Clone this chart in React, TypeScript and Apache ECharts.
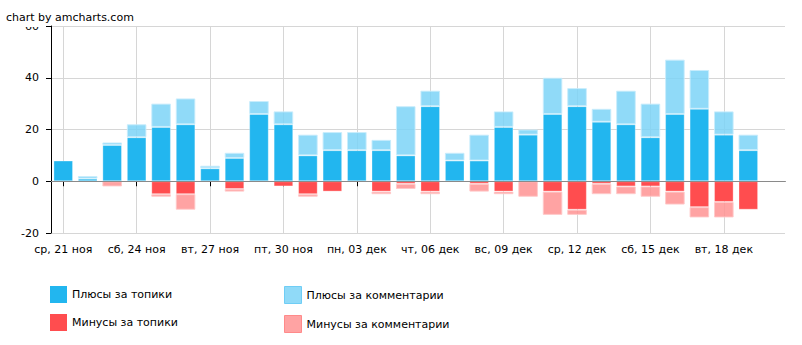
import React, { useEffect, useRef } from 'react';
import * as echarts from 'echarts';

const categories: string[] = [
  'ср, 21 ноя', 'чт, 22 ноя', 'пт, 23 ноя', 'сб, 24 ноя', 'вс, 25 ноя', 'пн, 26 ноя',
  'вт, 27 ноя', 'ср, 28 ноя', 'чт, 29 ноя', 'пт, 30 ноя', 'сб, 01 дек', 'вс, 02 дек',
  'пн, 03 дек', 'вт, 04 дек', 'ср, 05 дек', 'чт, 06 дек', 'пт, 07 дек', 'сб, 08 дек',
  'вс, 09 дек', 'пн, 10 дек', 'вт, 11 дек', 'ср, 12 дек', 'чт, 13 дек', 'пт, 14 дек',
  'сб, 15 дек', 'вс, 16 дек', 'пн, 17 дек', 'вт, 18 дек', 'ср, 19 дек', 'чт, 20 дек',
];

const topicPlus: (number | null)[] = [
  8, 1, 14, 17, 21, 22, 5, 9, 26, 22, 10, 12, 12, 12, 10,
  29, 8, 8, 21, 18, 26, 29, 23, 22, 17, 26, 28, 18, 12, null,
];
const commentPlus: (number | null)[] = [
  0, 1, 1, 5, 9, 10, 1, 2, 5, 5, 8, 7, 7, 4, 19,
  6, 3, 10, 6, 2, 14, 7, 5, 13, 13, 21, 15, 9, 6, null,
];
const topicMinus: (number | null)[] = [
  0, 0, 0, 0, -5, -5, 0, -3, 0, -2, -5, -4, 0, -4, -1,
  -4, 0, -1, -4, 0, -4, -11, -1, -2, -2, -4, -10, -8, -11, null,
];
const commentMinus: (number | null)[] = [
  0, 0, -2, 0, -1, -6, 0, -1, 0, 0, -1, 0, 0, -1, -2,
  -1, 0, -3, -1, -6, -9, -2, -4, -3, -4, -5, -4, -6, 0, null,
];

const yTicks = { min: -20, max: 60, interval: 20 };

const NAME_TP = 'Плюсы за топики';
const NAME_CP = 'Плюсы за комментарии';
const NAME_TM = 'Минусы за топики';
const NAME_CM = 'Минусы за комментарии';

export default function App() {
  const ref = useRef<HTMLDivElement>(null);

  useEffect(() => {
    if (!ref.current) return;
    const chart = echarts.init(ref.current, null, { renderer: 'svg' });
    const font = '"DejaVu Sans", Verdana, sans-serif';

    // zero-height segments are not drawn (they would leave border slivers)
    const clean = (arr: (number | null)[]) => arr.map((v) => (v === 0 || v === null ? '-' : v));

    const bar = (name: string, data: (number | null)[], color: string, border: string, extra: any = {}) => ({
      name,
      type: 'bar',
      stack: 'votes',
      data: clean(data),
      barWidth: '80%',
      itemStyle: { color, borderColor: border, borderWidth: 1 },
      emphasis: { disabled: true },
      ...extra,
    });

    const legendText = { fontSize: 11, color: '#000', fontFamily: font };

    chart.setOption({
      animation: false,
      textStyle: { fontFamily: font },
      grid: { left: 51, right: 17, top: 26, bottom: 112 },
      xAxis: {
        type: 'category',
        data: categories,
        axisLine: { show: true, lineStyle: { color: '#000', width: 1 } },
        axisTick: { show: true, interval: 2, alignWithLabel: true, length: 5, lineStyle: { color: '#000' } },
        axisLabel: { interval: 2, margin: 11, color: '#000', fontSize: 11, fontFamily: font },
        splitLine: { show: true, interval: 2, alignWithLabel: true, lineStyle: { color: '#d6d6d6', width: 1 } },
      },
      yAxis: {
        type: 'value',
        min: yTicks.min,
        max: yTicks.max,
        interval: yTicks.interval,
        axisLine: { show: true, lineStyle: { color: '#000', width: 1 } },
        axisTick: { show: true, length: 5, lineStyle: { color: '#000' } },
        axisLabel: { margin: 12, color: '#000', fontSize: 11, fontFamily: font },
        splitLine: { show: true, lineStyle: { color: '#d6d6d6', width: 1 } },
      },
      legend: [
        {
          data: [
            { name: NAME_TP, itemStyle: { borderWidth: 0 } },
            { name: NAME_TM, itemStyle: { borderWidth: 0 } },
          ],
          orient: 'vertical',
          left: 50,
          top: 286,
          padding: 0,
          itemWidth: 17,
          itemHeight: 17,
          itemGap: 11,
          icon: 'rect',
          textStyle: legendText,
          selectedMode: false,
        },
        {
          data: [
            { name: NAME_CP, itemStyle: { borderColor: '#6fcdf5', borderWidth: 1 } },
            { name: NAME_CM, itemStyle: { borderColor: '#ff8a8a', borderWidth: 1 } },
          ],
          orient: 'vertical',
          left: 284,
          top: 286,
          padding: 0,
          itemWidth: 17,
          itemHeight: 17,
          itemGap: 11,
          icon: 'rect',
          textStyle: legendText,
          selectedMode: false,
        },
      ],
      series: [
        bar(NAME_TP, topicPlus, '#22b6ef', 'rgba(255,255,255,0.3)'),
        bar(NAME_CP, commentPlus, 'rgba(125,211,247,0.85)', 'rgba(200,236,252,0.9)'),
        bar(NAME_TM, topicMinus, '#ff4d4f', 'rgba(255,255,255,0.3)'),
        bar(NAME_CM, commentMinus, 'rgba(255,147,147,0.85)', 'rgba(255,200,200,0.9)', {
          markLine: {
            silent: true,
            symbol: ['none', 'none'],
            label: { show: false },
            lineStyle: { color: '#8a8a8a', width: 1, type: 'solid' },
            data: [{ yAxis: 0 }],
          },
        }),
      ],
      graphic: {
        elements: [
          {
            type: 'rect',
            z: 100,
            shape: { x: 0, y: 0, width: 44, height: 27 },
            style: { fill: '#fff' },
          },
          {
            type: 'text',
            z: 101,
            x: 6,
            y: 17,
            style: {
              text: 'chart by amcharts.com',
              fill: '#000',
              font: `11px ${font}`,
              verticalAlign: 'middle',
            },
          },
        ],
      },
    });

    return () => chart.dispose();
  }, []);

  return (
    <div
      ref={ref}
      style={{ position: 'fixed', left: 0, top: 0, width: 802, height: 345, background: '#fff' }}
    />
  );
}
